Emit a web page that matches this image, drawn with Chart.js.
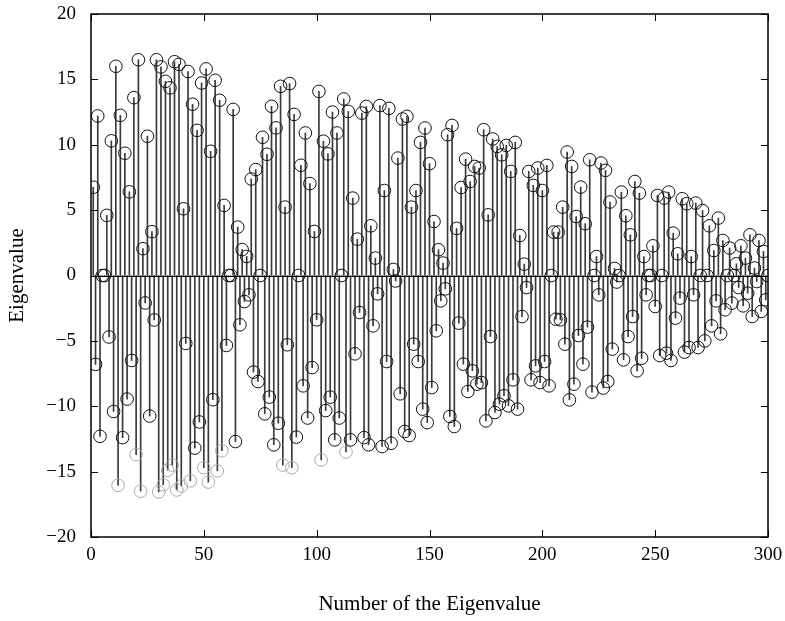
<!DOCTYPE html>
<html><head><meta charset="utf-8">
<script src="https://cdn.jsdelivr.net/npm/chart.js@4.4.1/dist/chart.umd.min.js"></script>
<style>html,body{margin:0;padding:0;background:#fff;} canvas{display:block;}</style>
</head><body>
<canvas id="c" width="785" height="621"></canvas>
<script>
// Eigenvalue number 1..300
const eigenvalues = [
  6.75, -6.8, 12.2, -12.3, 0, 0, 4.6, -4.7, 10.3, -10.4,
  16.0, -16.05, 12.25, -12.4, 9.35, -9.45, 6.4, -6.5, 13.6, -13.7,
  16.5, -16.5, 2.05, -2.1, 10.65, -10.75, 3.35, -3.4, 16.5, -16.55,
  15.95, -16.0, 14.85, -14.9, 14.35, -14.5, 16.35, -16.4, 16.15, -16.1,
  5.1, -5.2, 15.6, -15.7, 13.1, -13.2, 11.1, -11.2, 14.72, -14.7,
  15.8, -15.8, 9.5, -9.5, 14.93, -14.94, 13.4, -13.4, 5.36, -5.35,
  0, 0, 12.7, -12.7, 3.7, -3.77, 1.98, -1.99, 1.46, -1.48,
  7.38, -7.39, 8.1, -8.11, 0, 10.57, -10.58, 9.27, -9.3, 12.94,
  -12.95, 11.29, -11.3, 14.47, -14.5, 5.23, -5.3, 14.68, -14.7, 12.32,
  -12.36, 0, 8.43, -8.44, 10.9, -10.9, 7.03, -7.04, 3.37, -3.39,
  14.08, -14.1, 10.27, -10.33, 9.3, -9.3, 12.5, -12.57, 10.9, -10.9,
  0, 13.5, -13.5, 12.55, -12.57, 5.92, -5.99, 2.78, -2.83, 12.42,
  -12.4, 12.93, -12.95, 3.8, -3.85, 1.33, -1.4, 13.0, -13.08, 6.5,
  -6.58, 12.78, -12.83, 0.46, -0.42, 8.98, -9.05, 11.97, -11.93, 12.17,
  -12.24, 5.23, -5.25, 6.5, -6.58, 10.18, -10.22, 11.28, -11.25, 8.55,
  -8.57, 4.13, -4.23, 1.97, -1.94, 0.95, -1.02, 10.77, -10.78, 11.48,
  -11.55, 3.6, -3.64, 6.73, -6.78, 8.9, -8.87, 7.19, -7.29, 8.34,
  -8.31, 8.22, -8.19, 11.15, -11.12, 4.64, -4.67, 10.44, -10.48, 9.87,
  -9.84, 9.23, -9.2, 9.95, -9.97, 7.96, -7.98, 10.18, -10.22, 3.06,
  -3.14, 0.87, -0.92, 7.96, -7.98, 6.89, -6.91, 8.22, -8.19, 6.5,
  -6.58, 8.42, -8.44, 0, 3.32, -3.34, 3.32, -3.39, 5.23, -5.25,
  9.44, -9.51, 8.34, -8.31, 4.51, -4.59, 6.76, -6.78, 3.96, -3.95,
  8.85, -8.92, 0, 1.45, -1.48, 8.6, -8.61, 8.04, -8.11, 5.62,
  -5.63, 0.54, -0.5, 0, 6.38, -6.45, 4.57, -4.67, 3.11, -3.14,
  7.19, -7.29, 6.3, -6.33, 1.45, -1.48, 0, 0, 2.27, -2.37,
  6.12, -6.12, 0, 5.92, -5.94, 6.38, -6.5, 3.24, -3.26, 1.66,
  -1.73, 5.87, -5.86, 5.49, -5.51, 1.45, -1.48, 5.54, -5.51, 0,
  4.97, -5.0, 0, 3.8, -3.85, 1.91, -1.94, 4.39, -4.46, 2.68,
  -2.62, 0, 2.1, -2.11, 0, 0.9, -0.92, 2.27, -2.32, 1.33,
  -1.35, 3.11, -3.14, 0.57, -0.46, 2.68, -2.75, 1.84, -1.86, 0
];
const xTicks = [0, 50, 100, 150, 200, 250, 300];
const yTicks = [-20, -15, -10, -5, 0, 5, 10, 15, 20];
const xTitle = 'Number of the Eigenvalue';
const yTitle = 'Eigenvalue';
const grayBelow = -13.3;

const TICK_FONT = { family: "'Liberation Serif', 'Times New Roman', serif", size: 19 };
const TITLE_FONT = { family: "'Liberation Serif', 'Times New Roman', serif", size: 21 };
const points = eigenvalues.map((v, i) => ({ x: i + 1, y: v }));

const framePlugin = {
  id: 'frame',
  beforeDraw(chart) {
    const c = chart.ctx; c.save(); c.fillStyle = '#fff';
    c.fillRect(0, 0, chart.width, chart.height); c.restore();
  },
  afterDatasetsDraw(chart) {
    const c = chart.ctx, a = chart.chartArea, xs = chart.scales.x, ys = chart.scales.y;
    c.save();
    c.strokeStyle = '#000';
    c.lineWidth = 1;
    const y0 = Math.round(ys.getPixelForValue(0)) + 0.5;
    c.beginPath(); c.moveTo(a.left, y0); c.lineTo(a.right, y0); c.stroke();
    const L = 7;
    c.beginPath();
    xTicks.forEach(v => {
      const p = Math.round(xs.getPixelForValue(v)) + 0.5;
      c.moveTo(p, a.bottom); c.lineTo(p, a.bottom - L);
      c.moveTo(p, a.top); c.lineTo(p, a.top + L);
    });
    yTicks.forEach(v => {
      const p = Math.round(ys.getPixelForValue(v)) + 0.5;
      c.moveTo(a.left, p); c.lineTo(a.left + L, p);
      c.moveTo(a.right, p); c.lineTo(a.right - L, p);
    });
    c.stroke();
    c.lineWidth = 1.5;
    c.strokeRect(a.left, a.top, a.right - a.left, a.bottom - a.top);
    c.restore();
  }
};

new Chart(document.getElementById('c'), {
  type: 'scatter',
  data: {
    datasets: [
      {
        type: 'bar', data: points, backgroundColor: '#3a3a3a', borderWidth: 0,
        barThickness: 1, grouped: false, order: 2
      },
      {
        type: 'scatter', data: points, order: 1,
        pointRadius: 6.3, pointBorderWidth: 1,
        pointBackgroundColor: 'rgba(0,0,0,0)',
        pointBorderColor: ctx => (ctx.raw && ctx.raw.y < grayBelow) ? '#aaaaaa' : '#111111'
      }
    ]
  },
  options: {
    responsive: false, animation: false, devicePixelRatio: 1, events: [],
    layout: { padding: 0 },
    plugins: { legend: { display: false }, tooltip: { enabled: false } },
    scales: {
      x: {
        type: 'linear', min: 0, max: 300, offset: false,
        grid: { display: false, drawTicks: false }, border: { display: false },
        afterBuildTicks: s => { s.ticks = xTicks.map(v => ({ value: v })); },
        ticks: { color: '#000', font: TICK_FONT, padding: 7, maxRotation: 0,
                 callback: v => String(v).replace('-', '\u2212') },
        title: { display: true, text: xTitle, color: '#000', font: TITLE_FONT, padding: { top: 4, bottom: 4 } },
        afterFit: s => { s.height = 84; s.paddingLeft = 0; s.paddingRight = 17; }
      },
      y: {
        type: 'linear', min: -20, max: 20,
        grid: { display: false, drawTicks: false }, border: { display: false },
        afterBuildTicks: s => { s.ticks = yTicks.map(v => ({ value: v })); },
        ticks: { color: '#000', font: TICK_FONT, padding: 15,
                 callback: v => String(v).replace('-', '\u2212') },
        title: { display: true, text: yTitle, color: '#000', font: TITLE_FONT, padding: { top: 5, bottom: 4 } },
        afterFit: s => { s.width = 91; s.paddingTop = 14; s.paddingBottom = 0; }
      }
    }
  },
  plugins: [framePlugin]
});
</script>
</body></html>
